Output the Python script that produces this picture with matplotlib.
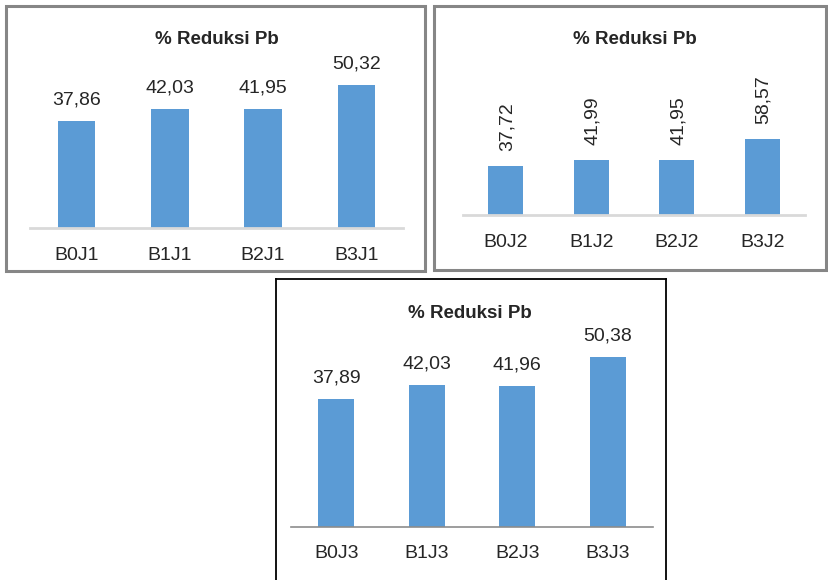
import matplotlib.pyplot as plt
from matplotlib.patches import Rectangle
from matplotlib.lines import Line2D

plt.rcParams['font.family'] = ['Liberation Sans', 'DejaVu Sans']

W, H = 829, 580

judul = "% Reduksi Pb"

kat_j1 = ["B0J1", "B1J1", "B2J1", "B3J1"]
nilai_j1 = [37.86, 42.03, 41.95, 50.32]

kat_j2 = ["B0J2", "B1J2", "B2J2", "B3J2"]
nilai_j2 = [37.72, 41.99, 41.95, 58.57]

kat_j3 = ["B0J3", "B1J3", "B2J3", "B3J3"]
nilai_j3 = [37.89, 42.03, 41.96, 50.38]

warna_bar = '#5b9bd5'
warna_teks = '#262626'


def fmt(v):
    return ("%.2f" % v).replace('.', ',')


def px_axes(fig, left, right, base, top):
    # pixel coords (from top-left) -> figure fraction
    return fig.add_axes([left / W, (H - base) / H, (right - left) / W, (base - top) / H])


def plot_panel(fig, kat, nilai, left, right, base, top, ymax, pad, rot=False, width=0.4,
               garis='#d9d9d9', lw=2):
    ax = px_axes(fig, left, right, base, top)
    x = range(len(kat))
    ax.bar(x, nilai, width, color=warna_bar, edgecolor='none', zorder=2)
    ax.set_xlim(-0.5, len(kat) - 0.5)
    ax.set_ylim(0, ymax)
    ax.set_xticks(list(x))
    ax.set_xticklabels(kat, fontsize=14, color=warna_teks)
    ax.tick_params(axis='x', length=0, pad=pad)
    ax.set_yticks([])
    for s in ['top', 'right', 'left']:
        ax.spines[s].set_visible(False)
    ax.spines['bottom'].set_color(garis)
    ax.spines['bottom'].set_linewidth(lw)
    ax.patch.set_alpha(0)
    for i, v in enumerate(nilai):
        if rot:
            ax.annotate(fmt(v), (i, v), xytext=(1, 11), textcoords='offset points',
                        ha='center', va='bottom', rotation=90, fontsize=14,
                        color=warna_teks, annotation_clip=False)
        else:
            ax.annotate(fmt(v), (i, v), xytext=(0, 12), textcoords='offset points',
                        ha='center', va='baseline', fontsize=14,
                        color=warna_teks, annotation_clip=False)
    return ax


fig = plt.figure(figsize=(W / 100, H / 100), dpi=100)
fig.patch.set_facecolor('white')

# bingkai panel
fig.add_artist(Rectangle((6 / W, (H - 271) / H), 419 / W, 265 / H, transform=fig.transFigure,
                         fill=False, edgecolor='#868686', linewidth=2.2))
fig.add_artist(Rectangle((434.5 / W, (H - 270) / H), 392 / W, 264 / H, transform=fig.transFigure,
                         fill=False, edgecolor='#868686', linewidth=2.2))
fig.add_artist(Line2D([276 / W, 276 / W], [(H - 279) / H, 0], transform=fig.transFigure,
                      color='black', linewidth=1.3))
fig.add_artist(Line2D([666.5 / W, 666.5 / W], [(H - 279) / H, 0], transform=fig.transFigure,
                      color='black', linewidth=1.3))
fig.add_artist(Line2D([276 / W, 666.5 / W], [(H - 279) / H, (H - 279) / H], transform=fig.transFigure,
                      color='black', linewidth=1.3))

# panel J1
plot_panel(fig, kat_j1, nilai_j1, 30, 403, 228, 58, 60, 13.5)
fig.text(217 / W, (H - 40) / H, judul, ha='center', va='center', fontsize=13.5, fontweight='bold', color=warna_teks)

# panel J2
plot_panel(fig, kat_j2, nilai_j2, 463, 805, 215, 85, 100, 14, rot=True, width=0.41)
fig.text(635 / W, (H - 40) / H, judul, ha='center', va='center', fontsize=13.5, fontweight='bold', color=warna_teks)

# panel J3
plot_panel(fig, kat_j3, nilai_j3, 291, 653, 527, 325, 60, 13, garis='#8c8c8c', lw=1.2)
fig.text(470 / W, (H - 313) / H, judul, ha='center', va='center', fontsize=13.5, fontweight='bold', color=warna_teks)

plt.savefig('out.png', dpi=100)
plt.close(fig)
